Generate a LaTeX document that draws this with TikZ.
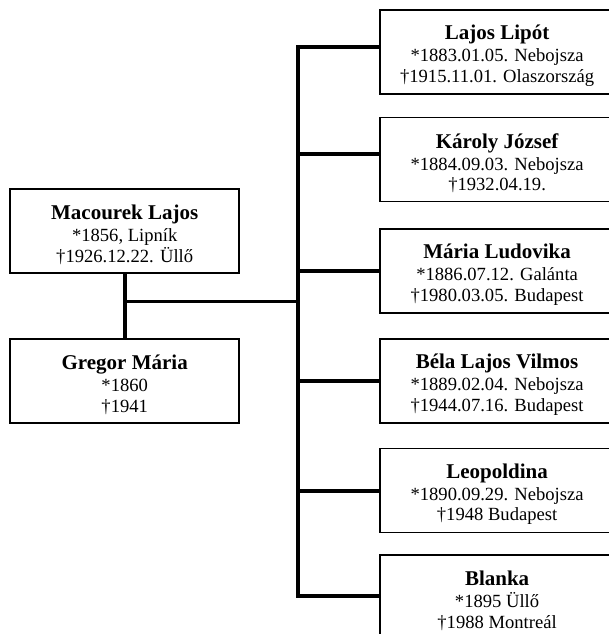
\documentclass[tikz,border=0pt]{standalone}
\usepackage{fontspec}
\setmainfont{Liberation Serif}
\usepackage{tikz}
\usetikzlibrary{calc}
\newcommand{\pname}[1]{{\fontsize{21}{23}\selectfont\bfseries\rule{0pt}{22pt}#1}\\[1.5pt]}
\tikzset{
  person/.style={draw=black, line width=1.6pt, minimum width=229pt, minimum height=84pt,
    inner sep=0pt, align=center, font=\fontsize{18.6}{20.5}\selectfont},
  child/.style={person, minimum width=234pt},
  link/.style={draw=black, line width=4pt},
}

\begin{document}
\begin{tikzpicture}[x=1pt, y=-1pt]
  \useasboundingbox (0,0) rectangle (608,634);

  % parents
  \node[person] (macourek) at (124.7,231) {\pname{Macourek Lajos}*1856, Lipník\\†1926.12.22. Üllő};
  \node[person] (gregor) at (124.7,381) {\pname{Gregor Mária}*1860\\†1941};

  % children
  \node[child, anchor=west] (lajos) at (379.3,52) {\pname{Lajos Lipót}*1883.01.05. Nebojsza\\†1915.11.01. Olaszország};
  \node[child, anchor=west] (karoly) at (379.3,159.5) {\pname{Károly József}*1884.09.03. Nebojsza\\†1932.04.19.};
  \node[child, anchor=west] (ludovika) at (379.3,271) {\pname{Mária Ludovika}*1886.07.12. Galánta\\†1980.03.05. Budapest};
  \node[child, anchor=west] (bela) at (379.3,381) {\pname{Béla Lajos Vilmos}*1889.02.04. Nebojsza\\†1944.07.16. Budapest};
  \node[child, anchor=west] (leopoldina) at (379.3,490.5) {\pname{Leopoldina}*1890.09.29. Nebojsza\\†1948 Budapest};
  \node[child, anchor=west] (blanka) at (379.3,597) {\pname{Blanka}*1895 Üllő\\†1988 Montreál};

  % couple and spine
  \coordinate (couple) at ($(macourek.south)!0.5!(gregor.north)+(0,-4.5)$);
  \coordinate (top) at (297.5,47);
  \coordinate (bottom) at (297.5,596);
  \coordinate (karolyin) at ($(karoly.west)+(0,-5.5)$);
  \draw[link] (macourek.south) -- (gregor.north);
  \draw[link, line width=3.4pt] (couple) -- (couple -| top);
  \draw[link, line cap=rect] (top) -- (bottom);

  % branches
  \draw[link] (top) -- (top -| lajos.west);
  \draw[link] (karolyin -| top) -- (karolyin);
  \foreach \kid in {ludovika,bela,leopoldina}
    \draw[link] (\kid.west) -- (\kid.west -| top);
  \draw[link] (bottom) -- (bottom -| blanka.west);
\end{tikzpicture}
\end{document}
